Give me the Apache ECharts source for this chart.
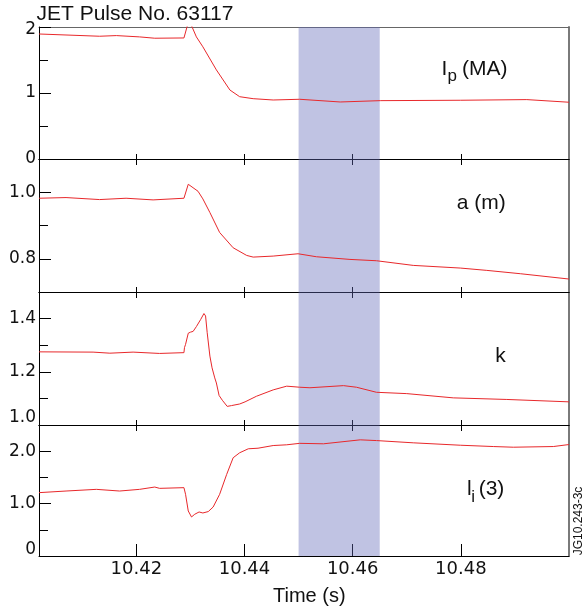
<!DOCTYPE html>
<html><head><meta charset="utf-8">
<script src="https://cdn.jsdelivr.net/npm/echarts@6/dist/echarts.min.js"></script>
<style>html,body{margin:0;padding:0;background:#fff}#c{width:582px;height:614px}</style>
</head><body><div id="c"></div>
<script>
// ---------- data ----------
const timeRange = [10.402, 10.500];
const timeTicks = [10.42, 10.44, 10.46, 10.48];
const bandRange = [10.450, 10.465];

const ipData = [[10.4020,1.894],[10.4132,1.86],[10.4163,1.87],[10.4206,1.85],[10.4234,1.83],[10.4288,1.834],[10.4295,2.04],[10.4301,2.04],[10.4311,1.85],[10.4323,1.70],[10.4348,1.35],[10.4373,1.045],[10.4391,0.944],[10.4416,0.914],[10.4453,0.894],[10.4502,0.905],[10.4577,0.864],[10.4651,0.884],[10.4799,0.89],[10.4922,0.90],[10.5000,0.86]];
const aData = [[10.4020,0.982],[10.4070,0.984],[10.4132,0.978],[10.4181,0.982],[10.4231,0.977],[10.4288,0.982],[10.4296,1.024],[10.4314,1.003],[10.4323,0.98],[10.4336,0.939],[10.4354,0.879],[10.4379,0.833],[10.4404,0.810],[10.4416,0.805],[10.4453,0.808],[10.4499,0.815],[10.4533,0.806],[10.4595,0.798],[10.4644,0.794],[10.4712,0.780],[10.4799,0.772],[10.4848,0.765],[10.4910,0.755],[10.5000,0.739]];
const kData = [[10.4020,1.275],[10.4120,1.274],[10.4151,1.270],[10.4194,1.274],[10.4243,1.269],[10.4288,1.272],[10.4289,1.291],[10.4291,1.303],[10.4296,1.345],[10.4300,1.349],[10.4305,1.352],[10.4311,1.370],[10.4319,1.397],[10.4325,1.419],[10.4328,1.410],[10.4331,1.347],[10.4336,1.259],[10.4340,1.215],[10.4345,1.177],[10.4348,1.158],[10.4353,1.111],[10.4359,1.093],[10.4368,1.070],[10.4376,1.073],[10.4391,1.079],[10.4401,1.087],[10.4422,1.108],[10.4453,1.132],[10.4478,1.146],[10.4502,1.142],[10.4521,1.140],[10.4583,1.148],[10.4607,1.142],[10.4644,1.123],[10.4700,1.118],[10.4786,1.102],[10.4885,1.096],[10.5000,1.087]];
const liData = [[10.4020,1.209],[10.4070,1.240],[10.4126,1.272],[10.4169,1.240],[10.4206,1.272],[10.4234,1.316],[10.4243,1.291],[10.4288,1.304],[10.4291,1.177],[10.4296,0.859],[10.4302,0.745],[10.4308,0.797],[10.4316,0.840],[10.4323,0.821],[10.4333,0.848],[10.4342,0.935],[10.4354,1.177],[10.4367,1.557],[10.4379,1.875],[10.4391,1.970],[10.4407,2.046],[10.4425,2.057],[10.4453,2.108],[10.4478,2.122],[10.4502,2.150],[10.4546,2.141],[10.4614,2.217],[10.4644,2.203],[10.4712,2.160],[10.4799,2.114],[10.4860,2.089],[10.4897,2.076],[10.4971,2.089],[10.5000,2.127]];

const ipYRange = [0, 2],     ipYLabels = [0, 1, 2],        ipYMinor = [0.5, 1.5];
const aYRange = [0.7, 1.1],  aYLabels = [0.8, 1.0],        aYMinor = [0.9];
const kYRange = [1.0, 1.5],  kYLabels = [1.0, 1.2, 1.4],   kYMinor = [1.1, 1.3];
const liYRange = [0, 2.5],   liYLabels = [0, 1, 2],        liYMinor = [0.5, 1.5];

const titleText = 'JET Pulse No. 63117';
const xAxisTitle = 'Time (s)';
const figureCode = 'JG10.243-3c';

// ---------- layout / style ----------
const NUM_FONT = 'DejaVu Sans';
const TXT_FONT = 'Liberation Sans';
const RED = '#e8282b';

const panels = [
  {data: ipData, range: ipYRange, labels: ipYLabels, minor: ipYMinor, top: 27, height: 132,
   fmt: v => v.toFixed(0), shift: {2: 'dn'}},
  {data: aData, range: aYRange, labels: aYLabels, minor: aYMinor, top: 159, height: 133,
   fmt: v => v.toFixed(1), shift: {}},
  {data: kData, range: kYRange, labels: kYLabels, minor: kYMinor, top: 292, height: 133,
   fmt: v => v.toFixed(1), shift: {'1.0': 'up7'}},
  {data: liData, range: liYRange, labels: liYLabels, minor: liYMinor, top: 425, height: 131,
   fmt: v => (v === 0 ? '0' : v.toFixed(1)), shift: {'0': 'up6'}}
];

const baseRich = {fontFamily: NUM_FONT, fontSize: 17, color: '#111'};
const rich = {
  n: Object.assign({}, baseRich),
  dn: Object.assign({padding: [6, 0, 0, 0]}, baseRich),
  up7: Object.assign({padding: [0, 0, 14, 0]}, baseRich),
  up6: Object.assign({padding: [0, 0, 12, 0]}, baseRich)
};

const grids = [], xAxes = [], yAxes = [], series = [];
panels.forEach((p, i) => {
  grids.push({left: 39, right: 13, top: p.top, height: p.height, containLabel: false});
  // bottom x axis
  xAxes.push({
    type: 'value', gridIndex: i, position: 'bottom', min: timeRange[0], max: timeRange[1],
    axisLine: {onZero: false, lineStyle: {color: '#000', width: 1}},
    axisTick: {inside: true, length: i === 3 ? 12 : 5, customValues: timeTicks, lineStyle: {color: '#000', width: 1}},
    axisLabel: {show: i === 3, customValues: timeTicks, formatter: v => v.toFixed(2),
      fontFamily: NUM_FONT, fontSize: 18, color: '#111', margin: 4},
    splitLine: {show: false}
  });
  // top x axis (frame)
  xAxes.push({
    type: 'value', gridIndex: i, position: 'top', min: timeRange[0], max: timeRange[1],
    axisLine: {onZero: false, lineStyle: {color: i === 0 ? '#666' : '#000', width: 1}},
    axisTick: {show: i > 0, inside: true, length: 6, customValues: timeTicks, lineStyle: {color: '#000', width: 1}},
    axisLabel: {show: false}, splitLine: {show: false}
  });
  // left y axis (major ticks + labels)
  yAxes.push({
    type: 'value', gridIndex: i, position: 'left', min: p.range[0], max: p.range[1],
    axisLine: {show: true, onZero: false, lineStyle: {color: '#000', width: 1}},
    axisTick: {show: true, inside: true, length: 12, customValues: p.labels, lineStyle: {color: '#000', width: 1}},
    axisLabel: {show: true, customValues: p.labels, margin: 3,
      formatter: v => {
        const t = p.fmt(v);
        const key = p.shift[t] || 'n';
        return '{' + key + '|' + t + '}';
      },
      rich: rich, fontFamily: NUM_FONT, fontSize: 17, color: '#111'},
    splitLine: {show: false}
  });
  // left y axis (minor ticks)
  yAxes.push({
    type: 'value', gridIndex: i, position: 'left', min: p.range[0], max: p.range[1],
    axisLine: {show: false, onZero: false},
    axisTick: {show: true, inside: true, length: 9, customValues: p.minor, lineStyle: {color: '#000', width: 1}},
    axisLabel: {show: false}, splitLine: {show: false}
  });
  // right frame
  yAxes.push({
    type: 'value', gridIndex: i, position: 'right', min: p.range[0], max: p.range[1],
    axisLine: {show: true, onZero: false, lineStyle: {color: '#7a7a7a', width: 2}},
    axisTick: {show: false}, axisLabel: {show: false}, splitLine: {show: false}
  });
  // band
  series.push({
    type: 'line', xAxisIndex: 2 * i, yAxisIndex: 3 * i, data: [], z: 1, silent: true,
    markArea: {silent: true, itemStyle: {color: 'rgba(98,105,185,0.4)'},
      data: [[{xAxis: bandRange[0]}, {xAxis: bandRange[1]}]]}
  });
  // signal
  series.push({
    type: 'line', xAxisIndex: 2 * i, yAxisIndex: 3 * i, data: p.data, z: 3,
    showSymbol: false, symbol: 'none', clip: true,
    lineStyle: {color: RED, width: 1}
  });
});

function txt(x, y, text, size, extra) {
  return Object.assign({
    type: 'text', x: x, y: y, silent: true,
    style: {text: text, font: size + 'px "' + TXT_FONT + '"', fill: '#111',
      textAlign: 'left', textVerticalAlign: 'middle', align: 'left', verticalAlign: 'middle'}
  }, extra || {});
}

const graphics = [
  txt(36.5, 14.4, titleText, 21),
  txt(441.4, 69.7, 'I', 21), txt(447.4, 76.1, 'p', 17), txt(462, 69.7, '(MA)', 21),
  txt(456.8, 203.7, 'a (m)', 21),
  txt(495.3, 356.7, 'k', 21),
  txt(466.9, 489.7, 'l', 21), txt(471.3, 497.4, 'i', 17), txt(478.7, 489.7, '(3)', 21),
  txt(273, 596.4, xAxisTitle, 20)
];
graphics.push({
  type: 'text', x: 578.5, y: 521, rotation: Math.PI / 2, silent: true,
  style: {text: figureCode, font: '12px "' + TXT_FONT + '"', fill: '#111',
    textAlign: 'center', textVerticalAlign: 'middle', align: 'center', verticalAlign: 'middle'}
});

const chart = echarts.init(document.getElementById('c'), null, {renderer: 'canvas'});
chart.setOption({
  animation: false,
  backgroundColor: '#fff',
  grid: grids, xAxis: xAxes, yAxis: yAxes, series: series,
  graphic: graphics
});
</script></body></html>
